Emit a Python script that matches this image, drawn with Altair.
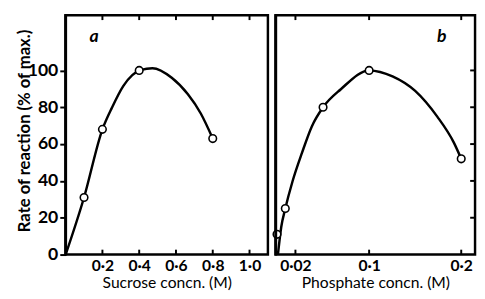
import altair as alt
import pandas as pd

# ---- data ----
sucrose_conc = [0.1, 0.2, 0.4, 0.8]
sucrose_rate = [31, 68, 100, 63]
sucrose_curve_x = [0.0, 0.1, 0.2, 0.253, 0.314, 0.41, 0.472, 0.577, 0.665, 0.735, 0.8]
sucrose_curve_y = [0, 31, 68, 80, 91.6, 100.3, 101.2, 96, 87, 76.6, 63]

phosphate_conc = [0.0, 0.009, 0.05, 0.1, 0.2]
phosphate_rate = [11, 25, 80, 100, 52]
phosphate_curve_x = [0.001, 0.0046, 0.009, 0.0168, 0.0273, 0.0378, 0.05, 0.0693, 0.1, 0.1254, 0.15, 0.174, 0.192, 0.2]
phosphate_curve_y = [0, 15, 25, 39.7, 55.5, 69.6, 80, 89.8, 100, 96.8, 88.9, 74.9, 60.8, 52]

sucrose_ticks = [0.2, 0.4, 0.6, 0.8, 1.0]
phosphate_ticks = [0.02, 0.1, 0.2]
rate_ticks = [0, 20, 40, 60, 80, 100]
right_ticks = [20, 40, 60, 80, 100]

FONT = "Lato"
H = 245
WA = 207
WB = 204
TICK = 5


def make_panel(px, py, cx, cy, xdom, xticks, xtitle, letter, letter_x, width, left, fmt):
    pts = pd.DataFrame({"x": px, "y": py})
    crv = pd.DataFrame({"x": cx, "y": cy})
    tk = pd.DataFrame({"x": xticks})
    one = pd.DataFrame({"k": [0]})
    xs = alt.Scale(domain=xdom, nice=False, zero=False)
    ys = alt.Scale(domain=[0, 130], nice=False)
    label_expr = "replace(format(datum.value, '%s'), '.', '·')" % fmt

    if left:
        yaxis = alt.Axis(values=rate_ticks, tickSize=6, tickWidth=2, tickColor="black",
                         domain=False, grid=False, labelFont=FONT, labelFontSize=18,
                         labelFontWeight="bold", labelColor="black", labelPadding=2,
                         title="Rate of reaction (% of max.)", titleFont=FONT,
                         titleFontSize=17, titleFontWeight="bold", titleColor="black",
                         titleX=-42, titleY=118, titleAngle=270, titleBaseline="middle")
    else:
        yaxis = None

    xaxis = alt.Axis(values=xticks, ticks=False, domain=False, grid=False,
                     labelExpr=label_expr, labelFont=FONT, labelFontSize=16,
                     labelFontWeight="bold", labelColor="black", labelPadding=3,
                     title=xtitle, titleFont=FONT, titleFontSize=16,
                     titleFontWeight="normal", titleColor="black", titlePadding=2)

    frame = alt.Chart(one).mark_rect(fillOpacity=0, stroke="black", strokeWidth=2.5).encode(
        x=alt.value(0), x2=alt.value(width), y=alt.value(0), y2=alt.value(H))
    line = alt.Chart(crv).mark_line(color="black", strokeWidth=2.5, interpolate="monotone", clip=True).encode(
        x=alt.X("x:Q", scale=xs, axis=xaxis),
        y=alt.Y("y:Q", scale=ys, axis=yaxis),
    )
    points = alt.Chart(pts).mark_point(filled=True, fill="white", stroke="black",
                                       strokeWidth=1.6, size=60, opacity=1).encode(
        x=alt.X("x:Q", scale=xs), y=alt.Y("y:Q", scale=ys))
    bottom_ticks = alt.Chart(tk).mark_tick(color="black", thickness=2, size=TICK,
                                           orient="vertical", opacity=1).encode(
        x=alt.X("x:Q", scale=xs), y=alt.value(H - TICK / 2))
    top_ticks = alt.Chart(tk).mark_tick(color="black", thickness=2, size=TICK,
                                        orient="vertical", opacity=1).encode(
        x=alt.X("x:Q", scale=xs), y=alt.value(TICK / 2))
    txt = alt.Chart(pd.DataFrame({"t": [letter]})).mark_text(
        font=FONT, fontSize=18, fontWeight="bold", fontStyle="italic", color="black",
        align="center", baseline="middle").encode(
        text="t:N", x=alt.value(letter_x), y=alt.value(22))
    edge = alt.Chart(one).mark_rule(color="black", strokeWidth=3).encode(
        x=alt.value(0), y=alt.value(-1), y2=alt.value(H + 1))
    layers = [line, frame, points, bottom_ticks, top_ticks, txt, edge]
    if not left:
        rt = pd.DataFrame({"y": right_ticks})
        rticks = alt.Chart(rt).mark_tick(color="black", thickness=2, size=TICK,
                                         orient="horizontal", opacity=1).encode(
            y=alt.Y("y:Q", scale=ys), x=alt.value(width - TICK / 2))
        layers.append(rticks)
    return alt.layer(*layers).properties(width=width, height=H)


pa = make_panel(sucrose_conc, sucrose_rate, sucrose_curve_x, sucrose_curve_y,
                [0, 1.1], sucrose_ticks, "Sucrose concn. (M)", "a", 29, WA, True, ".1f")
pb = make_panel(phosphate_conc, phosphate_rate, phosphate_curve_x, phosphate_curve_y,
                [-0.0014, 0.2150], phosphate_ticks, "Phosphate concn. (M)", "b", 170, WB, False, "~g")

chart = alt.hconcat(pa, pb, spacing=0).properties(
    padding={"left": 7, "top": 1, "right": 0, "bottom": 0},
    background="white",
).configure_view(strokeWidth=0)

chart.save("out.html", embed_options={"renderer": "svg", "actions": False})
